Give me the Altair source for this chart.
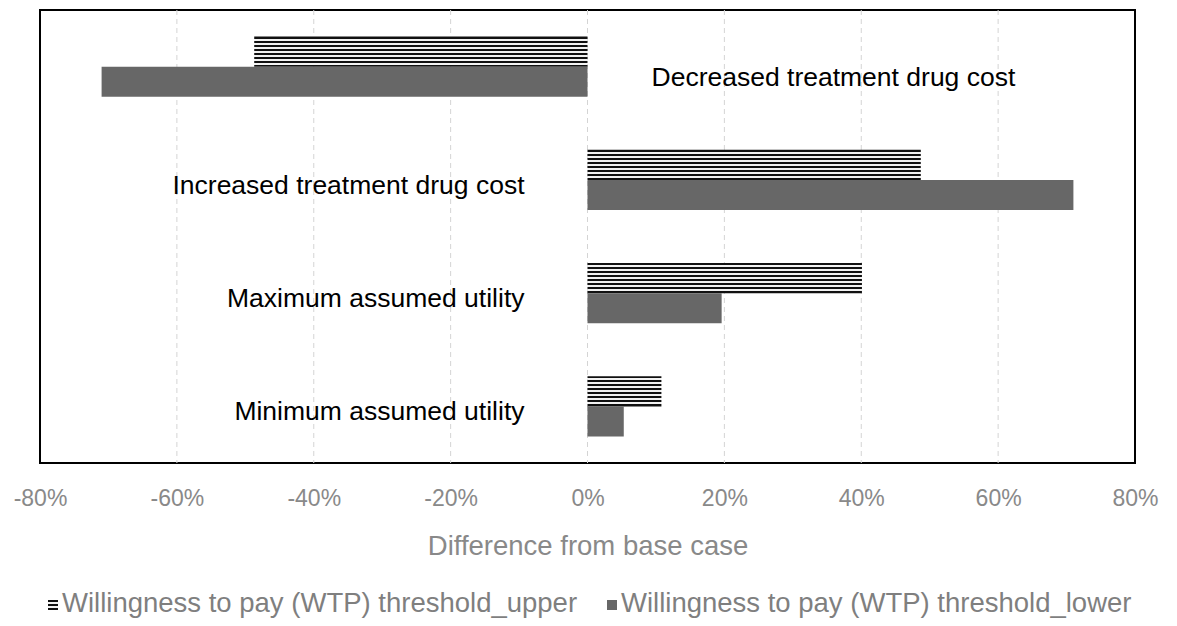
import altair as alt
import pandas as pd

categories = [
    "Decreased treatment drug cost",
    "Increased treatment drug cost",
    "Maximum assumed utility",
    "Minimum assumed utility",
]
series = [
    "Willingness to pay (WTP) threshold_upper",
    "Willingness to pay (WTP) threshold_lower",
]
upper_values = [-0.487, 0.487, 0.401, 0.108]
lower_values = [-0.710, 0.710, 0.196, 0.053]
x_ticks = [-0.8, -0.6, -0.4, -0.2, 0.0, 0.2, 0.4, 0.6, 0.8]
grid_ticks = [-0.6, -0.4, -0.2, 0.0, 0.2, 0.4, 0.6]

rows = []
for c, u, l in zip(categories, upper_values, lower_values):
    rows.append({"category": c, "series": series[0], "value": u})
    rows.append({"category": c, "series": series[1], "value": l})
df = pd.DataFrame(rows)

label_df = pd.DataFrame({
    "category": categories,
    "side": ["neg" if min(u, l) < 0 else "pos" for u, l in zip(upper_values, lower_values)],
})

FONT = "Liberation Sans"
W, H = 1095, 453


def stripes(n, dark="#111111", light="#f2f2f2"):
    stops = []
    for i in range(n):
        col = dark if i % 2 == 0 else light
        stops.append(alt.GradientStop(offset=i / n, color=col))
        stops.append(alt.GradientStop(offset=(i + 1) / n, color=col))
    return alt.LinearGradient(gradient="linear", stops=stops, x1=0, x2=0, y1=0, y2=1)


xscale = alt.Scale(domain=[-0.8, 0.8], nice=False)
ysc = alt.Scale(paddingInner=0.47, paddingOuter=0.235)
yoff = alt.YOffset("series:N", sort=series,
                   scale=alt.Scale(domain=series, paddingInner=0, paddingOuter=0))
xaxis = alt.Axis(
    values=x_ticks, format=".0%", title="Difference from base case",
    labelExpr="replace(datum.label, '\u2212', '-')",
    grid=False, ticks=False, domain=False, labelFlush=False, labelOverlap=False,
    labelFont=FONT, labelFontSize=23, labelColor="#898989", labelPadding=24,
    titleFont=FONT, titleFontSize=27.5, titleColor="#898989", titleFontWeight="normal",
    titlePadding=22,
)
xenc = alt.X("value:Q", scale=xscale, axis=xaxis)
yenc = alt.Y("category:N", sort=categories, scale=ysc, axis=None)

grid = alt.Chart(pd.DataFrame({"value": grid_ticks})).mark_rule(
    color="#d4d4d4", strokeDash=[5, 4], strokeWidth=1
).encode(x=xenc)

base = alt.Chart(df)
upper_bars = base.transform_filter(alt.datum.series == series[0]).mark_bar(
    fill=stripes(15)
).encode(x=xenc, y=yenc, yOffset=yoff)
lower_bars = base.transform_filter(alt.datum.series == series[1]).mark_bar(
    fill="#676767"
).encode(x=xenc, y=yenc, yOffset=yoff)

lab = alt.Chart(label_df)
neg_labels = lab.transform_filter(alt.datum.side == "neg").mark_text(
    align="left", baseline="middle", dx=64, dy=11, font=FONT, fontSize=26.5, color="#000000"
).encode(x=alt.datum(0), y=alt.Y("category:N", sort=categories, scale=ysc, axis=None), text="category:N")
pos_labels = lab.transform_filter(alt.datum.side == "pos").mark_text(
    align="right", baseline="middle", dx=-63, dy=6, font=FONT, fontSize=26.5, color="#000000"
).encode(x=alt.datum(0), y=alt.Y("category:N", sort=categories, scale=ysc, axis=None), text="category:N")

# custom legend
leg_upper_sym = alt.Chart(pd.DataFrame({"s": [series[0]]})).mark_rect(fill=stripes(5)).encode(
    x=alt.value(8), x2=alt.value(18), y=alt.value(590), y2=alt.value(600))
leg_lower_sym = alt.Chart(pd.DataFrame({"s": [series[1]]})).mark_rect(fill="#676767").encode(
    x=alt.value(567), x2=alt.value(577), y=alt.value(590), y2=alt.value(600))
leg_upper_txt = alt.Chart(pd.DataFrame({"s": [series[0]]})).mark_text(
    align="left", baseline="alphabetic", font=FONT, fontSize=27.5, color="#7f7f7f"
).encode(x=alt.value(22), y=alt.value(602), text="s:N")
leg_lower_txt = alt.Chart(pd.DataFrame({"s": [series[1]]})).mark_text(
    align="left", baseline="alphabetic", font=FONT, fontSize=27.5, color="#7f7f7f"
).encode(x=alt.value(581), y=alt.value(602), text="s:N")

chart = alt.layer(
    grid, upper_bars, lower_bars, neg_labels, pos_labels,
    leg_upper_sym, leg_lower_sym, leg_upper_txt, leg_lower_txt,
).properties(
    width=W, height=H,
    autosize=alt.AutoSizeParams(type="none"),
    padding={"left": 32, "top": 2, "right": 34, "bottom": 155},
).configure_view(stroke="#000000", strokeWidth=2)

chart.save("out.html", embed_options={"renderer": "svg", "actions": False})
